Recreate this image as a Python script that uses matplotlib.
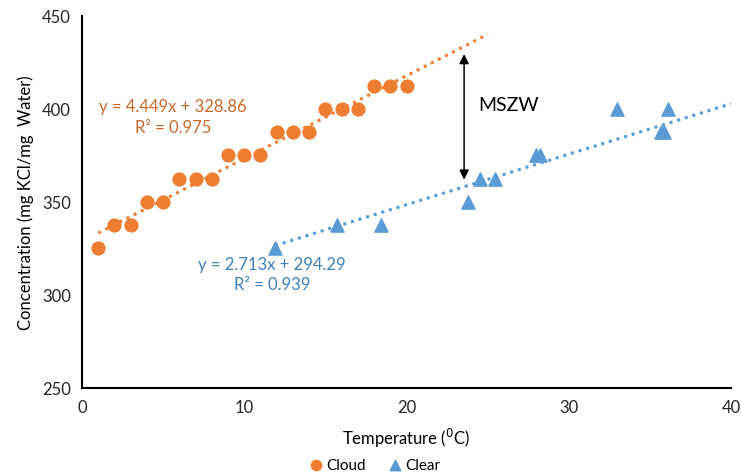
import matplotlib.pyplot as plt
import numpy as np

plt.rcParams['font.family'] = ['Lato', 'DejaVu Sans']

# data
cloud_t = [1, 2, 3, 4, 5, 6, 7, 8, 9, 10, 11, 12, 13, 14, 15, 16, 17, 18, 19, 20]
cloud_c = [325, 337.5, 337.5, 350, 350, 362.5, 362.5, 362.5, 375, 375, 375,
           387.5, 387.5, 387.5, 400, 400, 400, 412.5, 412.5, 412.5]
clear_t = [11.9, 15.7, 18.4, 23.8, 24.5, 25.45, 28.0, 28.2, 33.0, 35.7, 35.9, 36.1]
clear_c = [325, 337.5, 337.5, 350, 362.5, 362.5, 375, 375, 400, 387.5, 387.5, 400]

cloud_fit = (4.449, 328.86)
clear_fit = (2.713, 294.29)

orange = '#ED7D31'
blue = '#5B9BD5'

fig = plt.figure(figsize=(7.41, 4.77), dpi=100)
ax = fig.add_axes([0.1107, 0.1845, 0.8758, 0.78])

ax.scatter(cloud_t, cloud_c, s=85, color=orange, marker='o', zorder=3, label='Cloud')
ax.scatter(clear_t, clear_c, s=90, color=blue, marker='^', zorder=3, label='Clear')

# trendlines
xs = np.array([1, 25])
ax.plot(xs, cloud_fit[0]*xs + cloud_fit[1], color=orange, ls=(0, (1, 1.6)), lw=2.2, zorder=2)
xs = np.array([11.9, 40])
ax.plot(xs, clear_fit[0]*xs + clear_fit[1], color=blue, ls=(0, (1, 1.6)), lw=2.2, zorder=2)

ax.text(5.6, 401.5, 'y = 4.449x + 328.86', color='#C8692A', fontsize=12, ha='center', va='center')
ax.text(5.6, 390.2, 'R² = 0.975', color='#C8692A', fontsize=12, ha='center', va='center')
ax.text(11.7, 316.5, 'y = 2.713x + 294.29', color='#3F80BF', fontsize=12, ha='center', va='center')
ax.text(11.7, 305.7, 'R² = 0.939', color='#3F80BF', fontsize=12, ha='center', va='center')

# MSZW arrow
ax.annotate('', xy=(23.55, 360.5), xytext=(23.55, 431),
            arrowprops=dict(arrowstyle='<|-|>', color='black', lw=1.1, mutation_scale=14))
ax.text(24.4, 402.5, 'MSZW', fontsize=14, va='center', ha='left')

ax.set_xlim(0, 40)
ax.set_ylim(250, 450)
ax.set_xticks([0, 10, 20, 30, 40])
ax.set_yticks([250, 300, 350, 400, 450])
ax.tick_params(length=0, labelsize=12, pad=8, colors='#262626')
ax.spines['top'].set_visible(False)
ax.spines['right'].set_visible(False)
ax.spines['left'].set_linewidth(1.5)
ax.spines['bottom'].set_linewidth(1.5)

ax.set_xlabel('Temperature ($^{0}$C)', fontsize=12, labelpad=8)
ax.set_ylabel('Concentration (mg KCl/mg  Water)', fontsize=12, labelpad=6)

fig.legend(loc='lower center', bbox_to_anchor=(0.5, -0.02), ncol=2, frameon=False,
           fontsize=11, handletextpad=-0.3, columnspacing=0.9, markerscale=0.8)

fig.savefig('out.png', dpi=100)
